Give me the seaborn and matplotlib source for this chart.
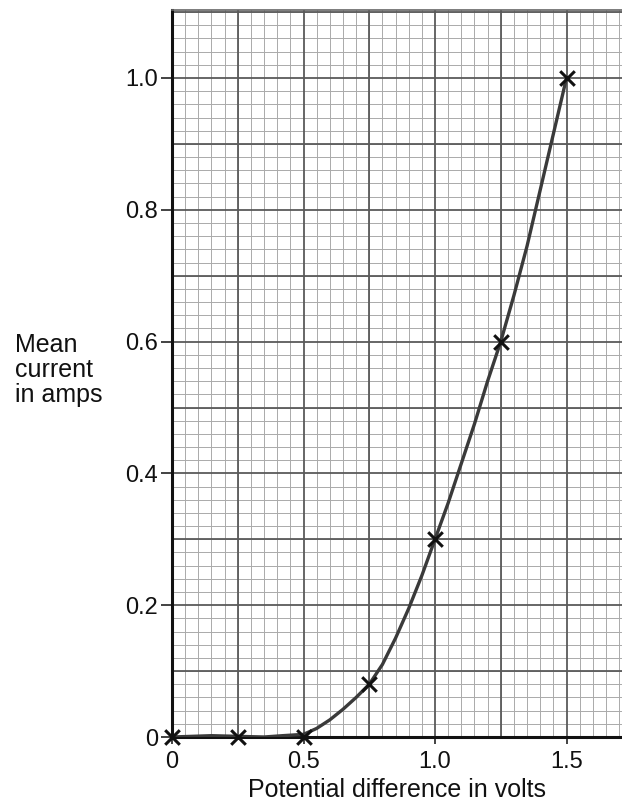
import numpy as np
import pandas as pd
import matplotlib
matplotlib.use("Agg")
import matplotlib.pyplot as plt
from matplotlib.ticker import MultipleLocator, FixedLocator
import seaborn as sns

# measured points (crosses)
volts = [0.0, 0.25, 0.5, 0.75, 1.0, 1.25, 1.5]
amps = [0.0, 0.0, 0.0, 0.08, 0.30, 0.60, 1.0]

# hand-drawn curve
curve_v = [0.0, 0.15, 0.25, 0.35, 0.42, 0.5, 0.55, 0.6, 0.65, 0.7, 0.75, 0.8, 0.85,
           0.9, 0.95, 1.0, 1.05, 1.1, 1.15, 1.2, 1.25, 1.3, 1.35, 1.4, 1.45, 1.5]
curve_a = [0.0, 0.002, 0.001, 0.0, 0.002, 0.004, 0.013, 0.026, 0.042, 0.06, 0.08,
           0.11, 0.15, 0.195, 0.245, 0.30, 0.355, 0.415, 0.475, 0.54, 0.60,
           0.67, 0.745, 0.83, 0.915, 1.0]

x_ticks = [0, 0.5, 1.0, 1.5]
x_labels = ["0", "0.5", "1.0", "1.5"]
y_ticks = [0, 0.2, 0.4, 0.6, 0.8, 1.0]
y_labels = ["0", "0.2", "0.4", "0.6", "0.8", "1.0"]

sns.set_theme(style="white")
plt.rcParams['font.family'] = ['Liberation Sans', 'DejaVu Sans']

fig = plt.figure(figsize=(6.22, 8.07), dpi=100)
ax = fig.add_axes([172 / 622, 1 - 737 / 807, 1 - 172 / 622, (737 - 10) / 807])

ax.set_xlim(0, (622 - 172) / 263)
ax.set_ylim(0, (737 - 10) / 659)

# graph paper grid
ax.xaxis.set_minor_locator(MultipleLocator(0.05))
ax.yaxis.set_minor_locator(MultipleLocator(0.02))
for v in np.arange(0.25, 1.75, 0.25):
    ax.axvline(v, color="#5a5a5a", lw=1.3, zorder=1)
for a in np.arange(0.1, 1.11, 0.1):
    ax.axhline(a, color="#5a5a5a", lw=1.3, zorder=1)
ax.grid(which="minor", color="#aaaaaa", lw=0.7, zorder=0)

df_curve = pd.DataFrame({"V": curve_v, "I": curve_a})
sns.lineplot(data=df_curve, x="V", y="I", ax=ax, color="#3a3a3a", lw=2.4,
             sort=False, zorder=3)
df_pts = pd.DataFrame({"V": volts, "I": amps})
sns.scatterplot(data=df_pts, x="V", y="I", ax=ax, marker="x", s=110,
                color="#111111", linewidth=2.2, zorder=4, clip_on=False)

ax.xaxis.set_major_locator(FixedLocator(x_ticks))
ax.set_xticklabels(x_labels)
ax.yaxis.set_major_locator(FixedLocator(y_ticks))
ax.set_yticklabels(y_labels)
ax.tick_params(axis="y", which="major", direction="out", length=8, width=1.2,
               color="#222222", labelsize=17, labelcolor="#111111", pad=2, left=True)
ax.tick_params(axis="x", which="major", direction="out", length=5, width=1.2,
               color="#222222", labelsize=17, labelcolor="#111111", pad=5, bottom=True)
ax.tick_params(which="minor", length=0)

for side in ["left", "bottom"]:
    ax.spines[side].set_color("#111111")
    ax.spines[side].set_linewidth(2.2)
ax.spines["top"].set_color("#666666")
ax.spines["top"].set_linewidth(1.2)
ax.spines["right"].set_visible(False)

ax.set_xlabel("Potential difference in volts", fontsize=18, color="#111111",
              labelpad=4)
ax.set_ylabel("")
fig.text(15 / 622, 1 - 370 / 807, "Mean\ncurrent\nin amps", fontsize=18,
         color="#111111", ha="left", va="center", linespacing=1.05)

fig.savefig("out.png", dpi=100, facecolor="white")
